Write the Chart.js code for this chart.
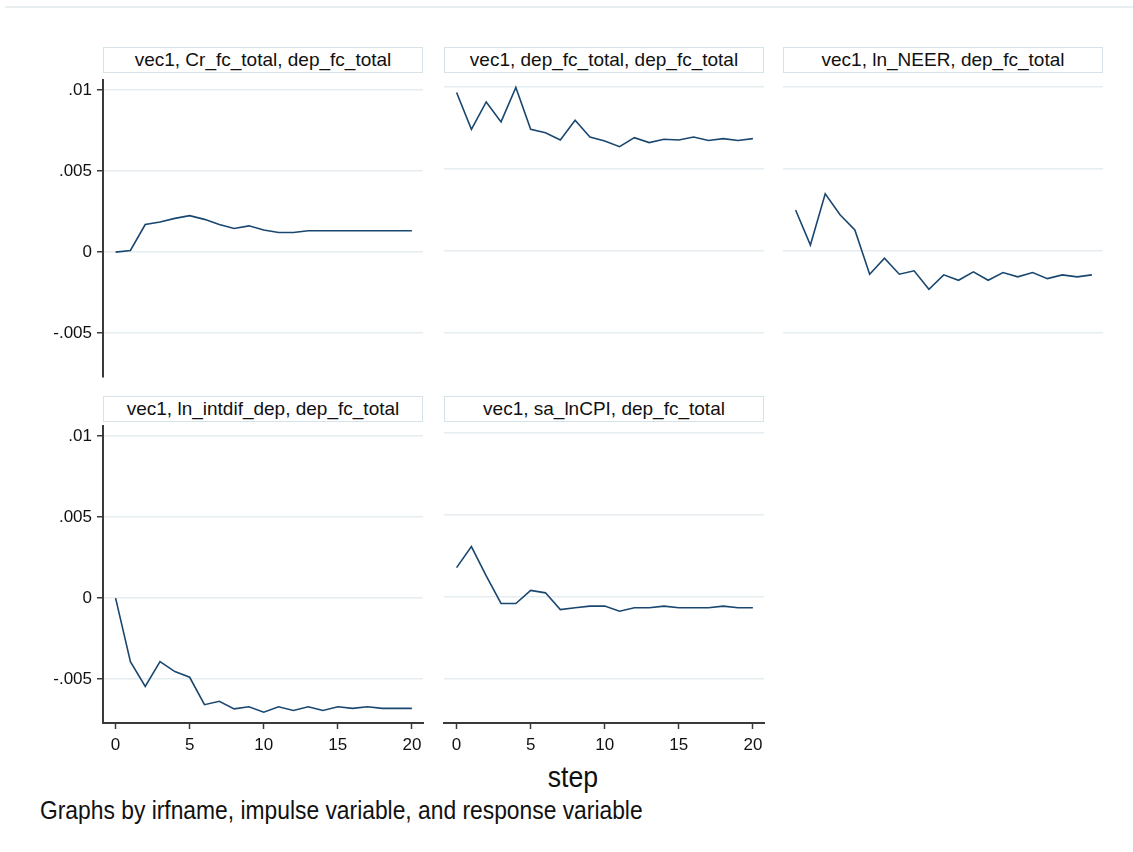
<!DOCTYPE html>
<html>
<head>
<meta charset="utf-8">
<script src="https://cdn.jsdelivr.net/npm/chart.js@4/dist/chart.umd.min.js"></script>
<style>
  body { margin: 0; background: #fff; }
  #page { position: relative; width: 1133px; height: 852px; background: #fff; overflow: hidden; font-family: "Liberation Sans", Arial, sans-serif; color: #111; }
  .topline { position: absolute; left: 5px; right: 0; top: 6px; height: 2px; background: #e9eff1; }
  .panel-title { position: absolute; box-sizing: border-box; width: 320px; height: 26px; border: 1px solid #d5e2e8; background: #fff; text-align: center; font-size: 19px; line-height: 24px; white-space: nowrap; }
  canvas.panel { position: absolute; }
  .xtitle { position: absolute; left: 473px; width: 200px; top: 761px; text-align: center; font-size: 29px; line-height: 32px; transform: scaleX(0.92); }
  .note { position: absolute; left: 40px; top: 796px; font-size: 25px; line-height: 28px; white-space: nowrap; transform: scaleX(0.913); transform-origin: 0 0; }
</style>
</head>
<body>
<div id="page">
  <div class="topline"></div>
  <div class="xtitle">step</div>
  <div class="note">Graphs by irfname, impulse variable, and response variable</div>
</div>
<script>
// data

const steps = [0, 1, 2, 3, 4, 5, 6, 7, 8, 9, 10, 11, 12, 13, 14, 15, 16, 17, 18, 19, 20];

const crFcTotal = [0, 0.0001, 0.0017, 0.00186, 0.00208, 0.00225, 0.00202, 0.0017, 0.00146, 0.00162, 0.00136,
  0.00121, 0.00121, 0.00132, 0.00132, 0.00132, 0.00132, 0.00132, 0.00132, 0.00132, 0.00132];

const depFcTotal = [0.00965, 0.00741, 0.00908, 0.00786, 0.00996, 0.00741, 0.0072, 0.00676, 0.00796, 0.00694, 0.0067,
  0.00635, 0.0069, 0.0066, 0.0068, 0.00676, 0.00694, 0.00673, 0.00684, 0.00673, 0.00684];

const lnNeer = [0.00249, 0.00035, 0.00347, 0.0022, 0.00127, -0.00143, -0.00045, -0.00143, -0.00122, -0.00235, -0.00147,
  -0.0018, -0.00129, -0.0018, -0.00133, -0.00159, -0.00133, -0.0017, -0.00147, -0.00159, -0.00147];

const lnIntdifDep = [0, -0.00392, -0.00545, -0.00392, -0.00453, -0.00488, -0.00657, -0.00636, -0.00683, -0.0067, -0.00703,
  -0.0067, -0.00693, -0.0067, -0.00693, -0.0067, -0.0068, -0.0067, -0.0068, -0.0068, -0.0068];

const saLnCpi = [0.00178, 0.00306, 0.00127, -0.00041, -0.00041, 0.00039, 0.00024, -0.00078, -0.00067, -0.00057, -0.00057,
  -0.00088, -0.00067, -0.00067, -0.00057, -0.00067, -0.00067, -0.00067, -0.00057, -0.00067, -0.00067];

const panelTitles = [
  "vec1, Cr_fc_total, dep_fc_total",
  "vec1, dep_fc_total, dep_fc_total",
  "vec1, ln_NEER, dep_fc_total",
  "vec1, ln_intdif_dep, dep_fc_total",
  "vec1, sa_lnCPI, dep_fc_total",
];

const yTicks = [-0.005, 0, 0.005, 0.01];
const yTickLabels = ["-.005", "0", ".005", ".01"];
const xTicks = [0, 5, 10, 15, 20];
const xTickLabels = ["0", "5", "10", "15", "20"];

// layout (grid of 3 columns x 2 rows)

const colLeft = [103, 444, 783];
const rowTop = [77, 423];
const titleTop = [47, 396];
const plotW = 320;
const plotH = 300;
const yAxisW = 70;
const xAxisH = 40;
const padTop = 12;
const padRight = 6;

const lineColor = "#1a476f";
const gridColor = "#e6edf0";
const axisColor = "#3a3a3a";
const page = document.getElementById("page");

function makePanel(index, values) {
  const col = index % 3;
  const row = Math.floor(index / 3);
  const showY = col === 0;
  const showX = row === 1;

  const titleBox = document.createElement("div");
  titleBox.className = "panel-title";
  titleBox.style.left = colLeft[col] + "px";
  titleBox.style.top = titleTop[row] + "px";
  titleBox.textContent = panelTitles[index];
  page.appendChild(titleBox);

  const canvas = document.createElement("canvas");
  canvas.className = "panel";
  const w = plotW + yAxisW + padRight;
  const h = plotH + padTop + xAxisH;
  canvas.style.left = (colLeft[col] - yAxisW) + "px";
  canvas.style.top = (rowTop[row] - padTop) + "px";
  canvas.style.width = w + "px";
  canvas.style.height = h + "px";
  canvas.width = w;
  canvas.height = h;
  page.appendChild(canvas);

  const points = steps.map((s, i) => ({ x: s, y: values[i] }));

  new Chart(canvas, {
    type: "line",
    data: {
      datasets: [
        {
          data: points,
          borderColor: lineColor,
          borderWidth: 1.6,
          pointRadius: 0,
          tension: 0,
          fill: false,
        },
      ],
    },
    options: {
      responsive: false,
      animation: false,
      layout: { padding: { left: 0, top: padTop, right: padRight, bottom: 0 } },
      plugins: { legend: { display: false }, tooltip: { enabled: false } },
      scales: {
        x: {
          type: "linear",
          min: -0.85,
          max: 20.75,
          afterBuildTicks: (scale) => {
            scale.ticks = xTicks.map((v) => ({ value: v }));
          },
          afterFit: (scale) => {
            scale.height = xAxisH;
          },
          border: { display: showX, color: axisColor, width: 2 },
          grid: {
            display: showX,
            drawOnChartArea: false,
            drawTicks: showX,
            tickLength: 6,
            tickColor: axisColor,
            tickWidth: 1.5,
          },
          ticks: {
            display: showX,
            autoSkip: false,
            maxRotation: 0,
            padding: 6,
            color: "#111",
            font: { family: "Liberation Sans", size: 17 },
            callback: (v) => xTickLabels[xTicks.indexOf(v)],
          },
        },
        y: {
          type: "linear",
          min: -0.0077,
          max: 0.0106,
          afterBuildTicks: (scale) => {
            scale.ticks = yTicks.map((v) => ({ value: v }));
          },
          afterFit: (scale) => {
            scale.width = yAxisW;
          },
          border: { display: showY, color: axisColor, width: 2 },
          grid: {
            color: gridColor,
            lineWidth: 1.5,
            drawTicks: showY,
            tickLength: 6,
            tickColor: axisColor,
            tickWidth: 1.5,
          },
          ticks: {
            display: showY,
            autoSkip: false,
            padding: 5,
            color: "#111",
            font: { family: "Liberation Sans", size: 17 },
            callback: (v) => yTickLabels[yTicks.indexOf(v)],
          },
        },
      },
    },
  });
}

[crFcTotal, depFcTotal, lnNeer, lnIntdifDep, saLnCpi].forEach((values, i) => makePanel(i, values));
</script>
</body>
</html>
